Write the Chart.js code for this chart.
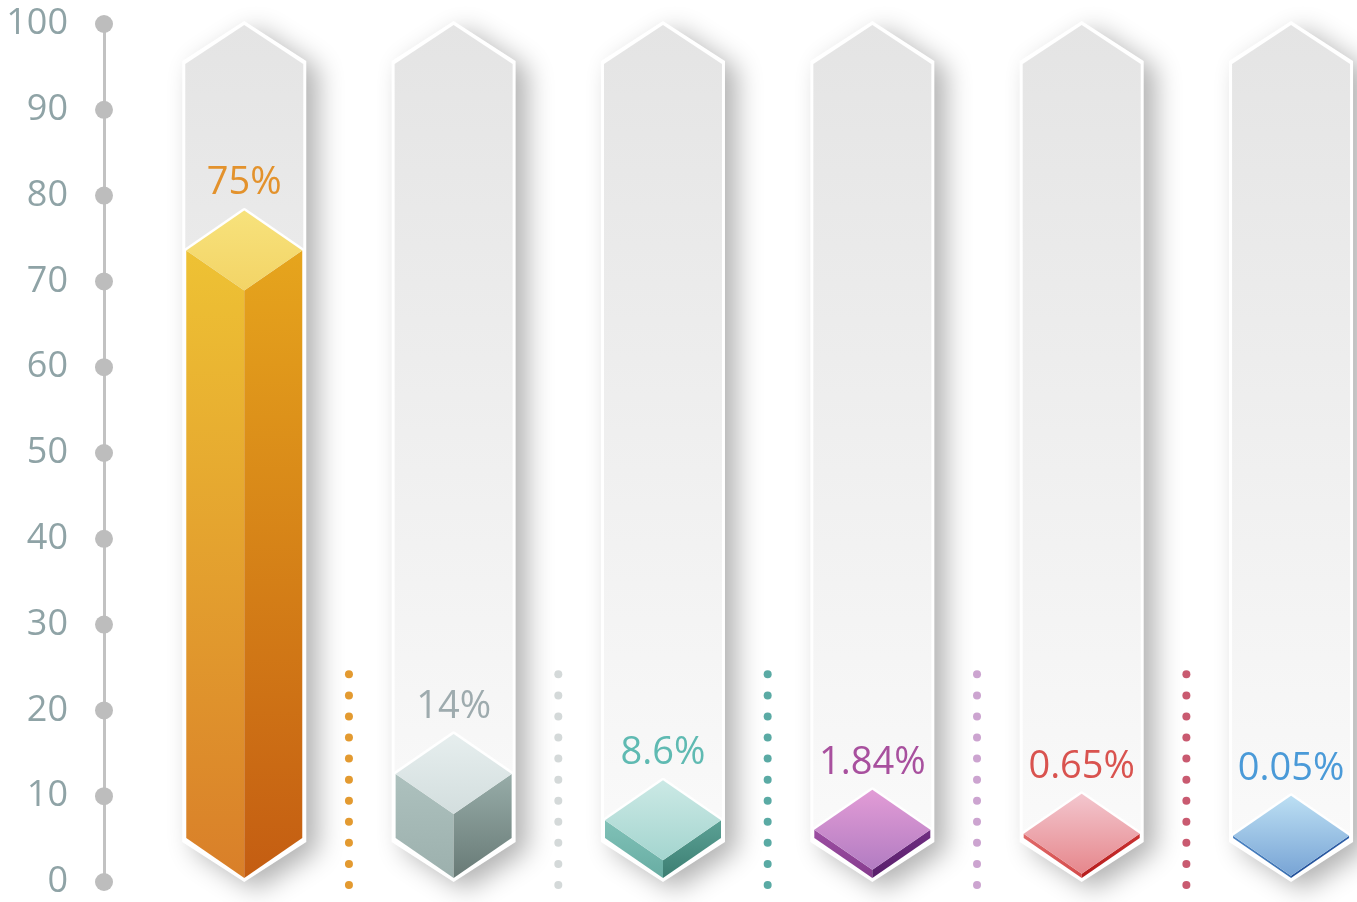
<!DOCTYPE html>
<html>
<head>
<meta charset="utf-8">
<script src="https://cdn.jsdelivr.net/npm/chart.js@4.4.1/dist/chart.umd.min.js"></script>
<style>
  html, body { margin: 0; padding: 0; background: #fff; overflow: hidden; }
  #wrap { width: 1357px; height: 902px; position: relative; }
</style>
</head>
<body>
<div id="wrap"><canvas id="chart"></canvas></div>
<script>
/* ── Data ─────────────────────────────────────────── */
const categories = ['1', '2', '3', '4', '5', '6'];
const values = [75, 14, 8.6, 1.84, 0.65, 0.05];
const yMin = 0, yMax = 100, yStep = 10;

/* ── Palette (per bar) ─────────────────────────────── */
const topFace   = [['#f7e27c', '#f3d466'], ['#e6eeee', '#d3dede'], ['#cbe9e5', '#a4d5cf'], ['#e29cd6', '#b27cc2'], ['#f3c6ce', '#e6878c'], ['#bcdff3', '#78a4d5']];
const leftFace  = [['#eec234', '#d97f29'], ['#adc1be', '#9cb0ad'], ['#80c1b7', '#68ada3'], ['#9c4ea2', '#863c8e'], ['#e06a6a', '#d44a4a'], ['#4a82c2', '#3a70b0']];
const rightFace = [['#e6a51d', '#c45d12'], ['#97aca8', '#687a76'], ['#5ba195', '#3c7e72'], ['#702e82', '#581e6a'], ['#c93232', '#b61c1c'], ['#2f60a8', '#214f98']];
const labelColors = ['#e3922c', '#9eabae', '#5fbab2', '#a8509e', '#d9534f', '#4a9ad8'];
const dotColors = ['#e39a30', '#d4d9d9', '#5aaaa4', '#cca4d0', '#c95a70'];

const DH = 40; // half-height of the diamond faces
const FONT = '"Open Sans", "Noto Sans", sans-serif';

function vGrad(ctx, y0, y1, c) {
  const g = ctx.createLinearGradient(0, y0, 0, y1);
  g.addColorStop(0, c[0]);
  g.addColorStop(1, c[1]);
  return g;
}

function hexPath(ctx, cx, hw, top, bottom, dh) {
  ctx.beginPath();
  ctx.moveTo(cx, top);
  ctx.lineTo(cx + hw, top + dh);
  ctx.lineTo(cx + hw, bottom - dh);
  ctx.lineTo(cx, bottom);
  ctx.lineTo(cx - hw, bottom - dh);
  ctx.lineTo(cx - hw, top + dh);
  ctx.closePath();
}

function poly(ctx, pts, fill) {
  ctx.beginPath();
  ctx.moveTo(pts[0][0], pts[0][1]);
  for (let k = 1; k < pts.length; k++) ctx.lineTo(pts[k][0], pts[k][1]);
  ctx.closePath();
  ctx.fillStyle = fill;
  ctx.fill();
}

/* ── Columns, separators, cubes, labels ────────────── */
const cubePlugin = {
  id: 'cubes',
  beforeDatasetsDraw(chart) {
    const { ctx } = chart;
    const ys = chart.scales.y;
    const meta = chart.getDatasetMeta(0);
    const top = ys.getPixelForValue(yMax) - 3;
    const bottom = ys.bottom;

    // background hex columns
    meta.data.forEach((bar) => {
      const cx = bar.x, hw = bar.width / 2 + 4;
      ctx.save();
      ctx.lineJoin = 'round';
      hexPath(ctx, cx, hw, top, bottom, DH);
      ctx.shadowColor = 'rgba(0,0,0,0.30)';
      ctx.shadowBlur = 26;
      ctx.shadowOffsetX = 12;
      ctx.shadowOffsetY = 8;
      ctx.fillStyle = '#ffffff';
      ctx.fill();
      ctx.restore();

      ctx.save();
      hexPath(ctx, cx, hw - 3, top + 4, bottom - 4, DH - 1);
      ctx.fillStyle = vGrad(ctx, top, bottom, ['#e4e4e4', '#fbfbfb']);
      ctx.fill();
      ctx.restore();
    });

    // dotted separators
    for (let i = 0; i < meta.data.length - 1; i++) {
      const x = (meta.data[i].x + meta.data[i + 1].x) / 2;
      const y0 = ys.getPixelForValue(24.2);
      const y1 = ys.bottom + 3;
      ctx.fillStyle = dotColors[i];
      for (let k = 0; k <= 10; k++) {
        const yy = y0 + (y1 - y0) * k / 10;
        ctx.beginPath();
        ctx.arc(x, yy, 4, 0, Math.PI * 2);
        ctx.fill();
      }
    }
  },
  afterDatasetsDraw(chart) {
    const { ctx } = chart;
    const meta = chart.getDatasetMeta(0);
    meta.data.forEach((bar, i) => {
      const cx = bar.x, hw = bar.width / 2;
      const baseS = bar.base - 44;
      const natural = baseS - (bar.y + 12);
      const thick = natural > 0 ? natural : 2 + (bar.base - bar.y) * 0.4;
      const topS = baseS - thick;

      ctx.save();
      // white outline
      ctx.lineJoin = 'round';
      ctx.beginPath();
      ctx.moveTo(cx, topS - DH);
      ctx.lineTo(cx + hw, topS);
      ctx.lineTo(cx + hw, baseS);
      ctx.lineTo(cx, baseS + DH);
      ctx.lineTo(cx - hw, baseS);
      ctx.lineTo(cx - hw, topS);
      ctx.closePath();
      ctx.strokeStyle = '#ffffff';
      ctx.lineWidth = 5;
      ctx.stroke();

      poly(ctx, [[cx - hw, topS], [cx, topS + DH], [cx, baseS + DH], [cx - hw, baseS]],
        vGrad(ctx, topS, baseS + DH, leftFace[i]));
      poly(ctx, [[cx, topS + DH], [cx + hw, topS], [cx + hw, baseS], [cx, baseS + DH]],
        vGrad(ctx, topS, baseS + DH, rightFace[i]));
      poly(ctx, [[cx, topS - DH], [cx + hw, topS], [cx, topS + DH], [cx - hw, topS]],
        vGrad(ctx, topS - DH, topS + DH, topFace[i]));

      // value label
      ctx.fillStyle = labelColors[i];
      ctx.font = '38px ' + FONT;
      ctx.textAlign = 'center';
      ctx.textBaseline = 'middle';
      ctx.fillText(values[i] + '%', cx, topS - DH - 27);
      ctx.restore();
    });
  },
  afterDraw(chart) {
    const { ctx } = chart;
    const ys = chart.scales.y;
    ctx.save();
    ctx.fillStyle = '#bdbdbd';
    ys.ticks.forEach((t) => {
      ctx.beginPath();
      ctx.arc(ys.right, ys.getPixelForValue(t.value), 9, 0, Math.PI * 2);
      ctx.fill();
    });
    ctx.restore();
  }
};

new Chart(document.getElementById('chart'), {
  type: 'bar',
  data: {
    labels: categories,
    datasets: [{
      data: values.map((v, i) => ({ x: i, y: v })),
      backgroundColor: 'rgba(0,0,0,0)',
      borderWidth: 0,
      barThickness: 116,
    }],
  },
  options: {
    responsive: true,
    maintainAspectRatio: false,
    animation: false,
    layout: { padding: { top: 24, bottom: 20, left: 4, right: 0 } },
    plugins: {
      legend: { display: false },
      tooltip: { enabled: false },
    },
    scales: {
      x: {
        type: 'linear',
        display: false,
        offset: false,
        min: -0.67,
        max: 5.315,
      },
      y: {
        min: yMin,
        max: yMax,
        afterFit: (s) => {
          s.width = 100;
          s.paddingTop = 0;
          s.paddingBottom = 0;
        },
        ticks: {
          stepSize: yStep,
          padding: 28,
          color: '#8fa3a6',
          font: { family: FONT, size: 36, lineHeight: 1 },
        },
        grid: { display: false },
        border: { display: true, color: '#c2c2c2', width: 3 },
      },
    },
  },
  plugins: [cubePlugin],
});
</script>
</body>
</html>
